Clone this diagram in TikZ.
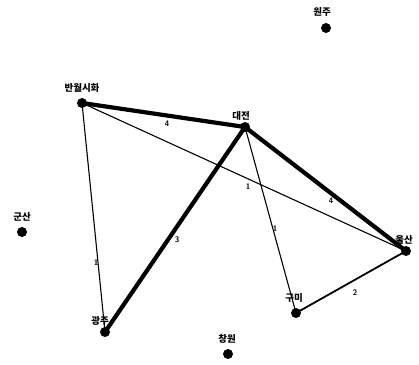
\documentclass[tikz,border=0pt]{standalone}
\usepackage{fontspec}
\newfontfamily\kr{Noto Sans CJK KR}
\begin{document}
\begin{tikzpicture}[x=1pt,y=-1pt,
  city/.style={circle,fill=black,inner sep=0pt,minimum size=10pt},
  lab/.style={font=\kr\bfseries\fontsize{9.5}{10}\selectfont,inner sep=0pt},
  wt/.style={font=\sffamily\bfseries\fontsize{8}{9}\selectfont,inner sep=1pt},
  thin/.style={line width=1.1pt},
  mid/.style={line width=1.8pt},
  thick/.style={line width=4.2pt}]
\useasboundingbox (0,0) rectangle (419,364);
\node[city] (wonju) at (326,28) {};
\node[city] (banwol) at (82,103) {};
\node[city] (daejeon) at (245,127) {};
\node[city] (gunsan) at (22,232) {};
\node[city] (ulsan) at (406,251) {};
\node[city] (gwangju) at (105,332) {};
\node[city] (gumi) at (296,313) {};
\node[city] (changwon) at (228,354) {};
\node[lab] (lwonju) at (322,12) {원주};
\node[lab] (lbanwol) at (82,88) {반월시화};
\node[lab] (ldaejeon) at (241,116) {대전};
\node[lab] (lgunsan) at (22,217) {군산};
\node[lab] (lulsan) at (404,240) {울산};
\node[lab] (lgwangju) at (100,321) {광주};
\node[lab] (lgumi) at (294,298) {구미};
\node[lab] (lchangwon) at (227,339) {창원};
\draw[thin] (banwol.center) -- (ulsan.center);
\draw[thin] (banwol.center) -- (gwangju.center);
\draw[thin] (daejeon.center) -- (gumi.center);
\draw[mid] (gumi.center) -- (ulsan.center);
\draw[thick] (banwol.center) -- (daejeon.center);
\draw[thick] (daejeon.center) -- (gwangju.center);
\draw[thick] (daejeon.center) -- (ulsan.center);
\node[wt] (w1) at (167,124) {4};
\node[wt] (w2) at (248,187) {1};
\node[wt] (w3) at (96,263) {1};
\node[wt] (w4) at (177,240) {3};
\node[wt] (w5) at (331,201) {4};
\node[wt] (w6) at (275,229) {1};
\node[wt] (w7) at (355,293) {2};
\end{tikzpicture}
\end{document}
